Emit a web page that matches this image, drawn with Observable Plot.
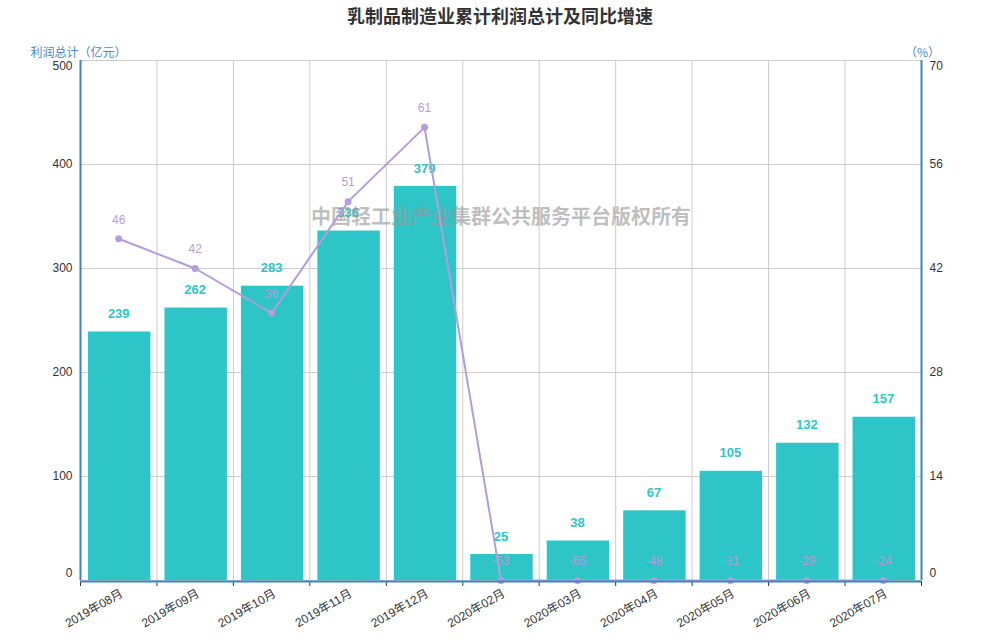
<!DOCTYPE html>
<html>
<head>
<meta charset="utf-8">
<script src="https://cdn.jsdelivr.net/npm/d3@7"></script>
<script src="https://cdn.jsdelivr.net/npm/@observablehq/plot@0.6"></script>
<style>
  body { margin: 0; background: #fff; font-family: "Liberation Sans", "Noto Sans CJK SC", sans-serif; }
  #title { height: 30px; line-height: 30px; text-align: center; font-size: 18px; font-weight: bold; color: #333; font-family: "Noto Sans CJK SC", sans-serif; }
  #chart svg { display: block; }
</style>
</head>
<body>
<div id="title">乳制品制造业累计利润总计及同比增速</div>
<div id="chart"></div>
<script>
const categories = ["2019年08月","2019年09月","2019年10月","2019年11月","2019年12月","2020年02月","2020年03月","2020年04月","2020年05月","2020年06月","2020年07月"];
const profit = [239, 262, 283, 336, 379, 25, 38, 67, 105, 132, 157];
const growth = [46, 42, 36, 51, 61, -53, -65, -48, -31, -29, -24];
const leftTicks = [0, 100, 200, 300, 400, 500];
const rightTicks = [0, 14, 28, 42, 56, 70];
const leftMax = 500, rightMax = 70;
const watermark = "中国轻工业产业集群公共服务平台版权所有";

const n = categories.length;
const data = categories.map((c, i) => ({i, c, profit: profit[i], growth: growth[i]}));
const toLeft = v => v * leftMax / rightMax;
const teal = "#2ec5c8", purple = "#b39ddb", axisBlue = "#3d85bf";
const font = "'Liberation Sans', 'Noto Sans CJK SC', sans-serif";
const pctFmt = d => Math.round(d * rightMax / leftMax);

const chart = Plot.plot({
  width: 1000,
  height: 610,
  marginTop: 30,
  marginBottom: 60,
  marginLeft: 80,
  marginRight: 79,
  style: {fontFamily: font, fontSize: "12px", color: "#333", background: "#fff"},
  x: {type: "linear", domain: [0, n], axis: null},
  y: {domain: [0, leftMax], axis: null},
  marks: [
    Plot.gridY(leftTicks, {stroke: "#ccc", strokeOpacity: 1}),
    Plot.gridX(d3.range(n + 1), {stroke: "#ccc", strokeOpacity: 1}),
    Plot.rectY(data, {x1: "i", x2: d => d.i + 1, y: "profit", fill: teal, insetLeft: 8, insetRight: 6}),
    Plot.text(data, {x: d => d.i + 0.5, y: "profit", text: d => String(d.profit), dy: -18, fill: teal, fontWeight: "bold", fontSize: 13}),
    Plot.text([watermark], {frameAnchor: "top", dy: 149, fill: "#999", fillOpacity: 0.65, fontWeight: "bold", fontSize: 20, fontFamily: "'Noto Sans CJK SC', sans-serif"}),
    Plot.line(data, {x: d => d.i + 0.5, y: d => toLeft(Math.max(0, d.growth)), stroke: purple, strokeWidth: 2}),
    Plot.dot(data, {x: d => d.i + 0.5, y: d => toLeft(Math.max(0, d.growth)), r: 3.5, fill: purple}),
    Plot.text(data, {x: d => d.i + 0.5, y: d => toLeft(Math.max(0, d.growth)), text: d => String(d.growth), dy: -19, fill: purple, fontSize: 12}),
    // left axis
    Plot.axisY(leftTicks.slice(1, -1), {anchor: "left", label: null, tickSize: 0, tickPadding: 8, fontSize: 12}),
    Plot.axisY([leftTicks[0]], {anchor: "left", label: null, tickSize: 0, tickPadding: 8, fontSize: 12, dy: -7}),
    Plot.axisY([leftTicks[leftTicks.length - 1]], {anchor: "left", label: null, tickSize: 0, tickPadding: 8, fontSize: 12, dy: 6}),
    // right axis
    Plot.axisY(rightTicks.slice(1, -1).map(toLeft), {anchor: "right", label: null, tickSize: 0, tickPadding: 8, fontSize: 12, tickFormat: pctFmt}),
    Plot.axisY([toLeft(rightTicks[0])], {anchor: "right", label: null, tickSize: 0, tickPadding: 8, fontSize: 12, dy: -7, tickFormat: pctFmt}),
    Plot.axisY([toLeft(rightTicks[rightTicks.length - 1])], {anchor: "right", label: null, tickSize: 0, tickPadding: 8, fontSize: 12, dy: 6, tickFormat: pctFmt}),
    // x axis ticks at band boundaries and labels at centers
    Plot.axisX(d3.range(n + 1), {anchor: "bottom", label: null, tickSize: 5, tickFormat: () => "", stroke: "#333", dy: 1}),
    Plot.axisX(d3.range(n).map(i => i + 0.5), {anchor: "bottom", label: null, tickSize: 0, tickPadding: 12, tickRotate: -30, fontSize: 12, fill: "#333", dx: 3, tickFormat: d => categories[Math.floor(d)]}),
    // axis lines
    Plot.ruleX([0], {stroke: axisBlue, strokeWidth: 2}),
    Plot.ruleX([n], {stroke: axisBlue, strokeWidth: 2}),
    Plot.ruleY([0], {stroke: axisBlue, strokeWidth: 2, dy: 1}),
    // axis titles
    Plot.text(["利润总计（亿元）"], {frameAnchor: "top-left", textAnchor: "middle", dx: -2, dy: -12, fill: "#4a8ac4", fontSize: 12, fontFamily: "'Noto Sans CJK SC', sans-serif"}),
    Plot.text(["（%）"], {frameAnchor: "top-right", textAnchor: "middle", dx: 1, dy: -12, fill: "#4a8ac4", fontSize: 12, fontFamily: "'Noto Sans CJK SC', sans-serif"})
  ]
});
document.getElementById("chart").appendChild(chart);
</script>
</body>
</html>
